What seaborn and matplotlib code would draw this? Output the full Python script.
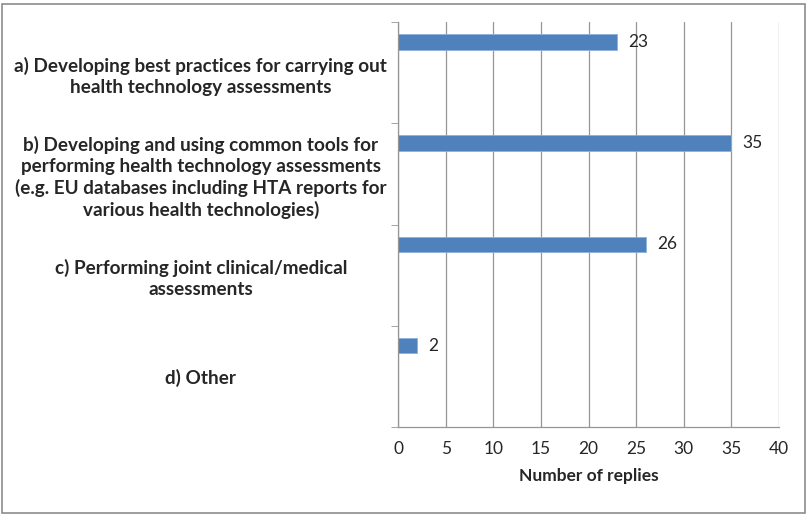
import pandas as pd
import numpy as np
import matplotlib
matplotlib.use('Agg')
import matplotlib.pyplot as plt
import seaborn as sns
from matplotlib.patches import Rectangle
from matplotlib.ticker import FixedLocator

options = [
    'a) Developing best practices for carrying out\nhealth technology assessments',
    'b) Developing and using common tools for\nperforming health technology assessments\n(e.g. EU databases including HTA reports for\nvarious health technologies)',
    'c) Performing joint clinical/medical\nassessments',
    'd) Other',
]
replies = [23, 35, 26, 2]
x_ticks = [0, 5, 10, 15, 20, 25, 30, 35, 40]

df = pd.DataFrame({'option': options, 'replies': replies, 'series': 'replies'})

sns.set_style('white')
plt.rcParams['font.family'] = ['Lato', 'DejaVu Sans']

fig = plt.figure(figsize=(8.08, 5.17), dpi=100)
ax = fig.add_axes([398 / 808, 1 - 427 / 517, 381 / 808, 405 / 517])

# Excel-style layout: the bar sits at the top of each category band
hue_levels = ['replies', 's2', 's3', 's4', 's5']
sns.barplot(data=df, y='option', x='replies', hue='series', hue_order=hue_levels,
            palette=['#4F81BD'] * 5, saturation=1, width=0.76, dodge=True, legend=False,
            edgecolor='#8DB0DA', linewidth=0.6, ax=ax, orient='h')

ax.set_xlim(0, 40)
ax.set_ylim(len(options) - 0.5, -0.5)
ax.set_xticks(x_ticks)
ax.xaxis.grid(True, color='#969696', linewidth=0.9)
ax.yaxis.grid(False)
ax.set_axisbelow(True)
for s in ['top', 'right']:
    ax.spines[s].set_visible(False)
for s in ['left', 'bottom']:
    ax.spines[s].set_color('#969696')
    ax.spines[s].set_linewidth(0.9)

ax.tick_params(axis='x', length=4, color='#969696', labelsize=12.5, pad=6)
ax.tick_params(axis='y', which='major', length=0, pad=142)
ax.yaxis.set_minor_locator(FixedLocator(np.arange(-0.5, len(options), 1)))
ax.tick_params(axis='y', which='minor', length=5, color='#969696', left=True)
for lab in ax.get_yticklabels():
    lab.set_ha('center')
    lab.set_fontweight('bold')
    lab.set_fontsize(13.6)
    lab.set_linespacing(1.28)

ax.set_ylabel('')
ax.set_xlabel('Number of replies', fontsize=12.5, fontweight='bold', labelpad=8)

for bar_container in ax.containers[:1]:
    ax.bar_label(bar_container, labels=[str(v) for v in replies], padding=8, fontsize=12.5)

fig.patches.append(Rectangle((2 / 808, 4 / 517), 803 / 808, 509 / 517, transform=fig.transFigure,
                             fill=False, edgecolor='#8C8C8C', linewidth=1.2))

fig.savefig('out.png', dpi=100)
